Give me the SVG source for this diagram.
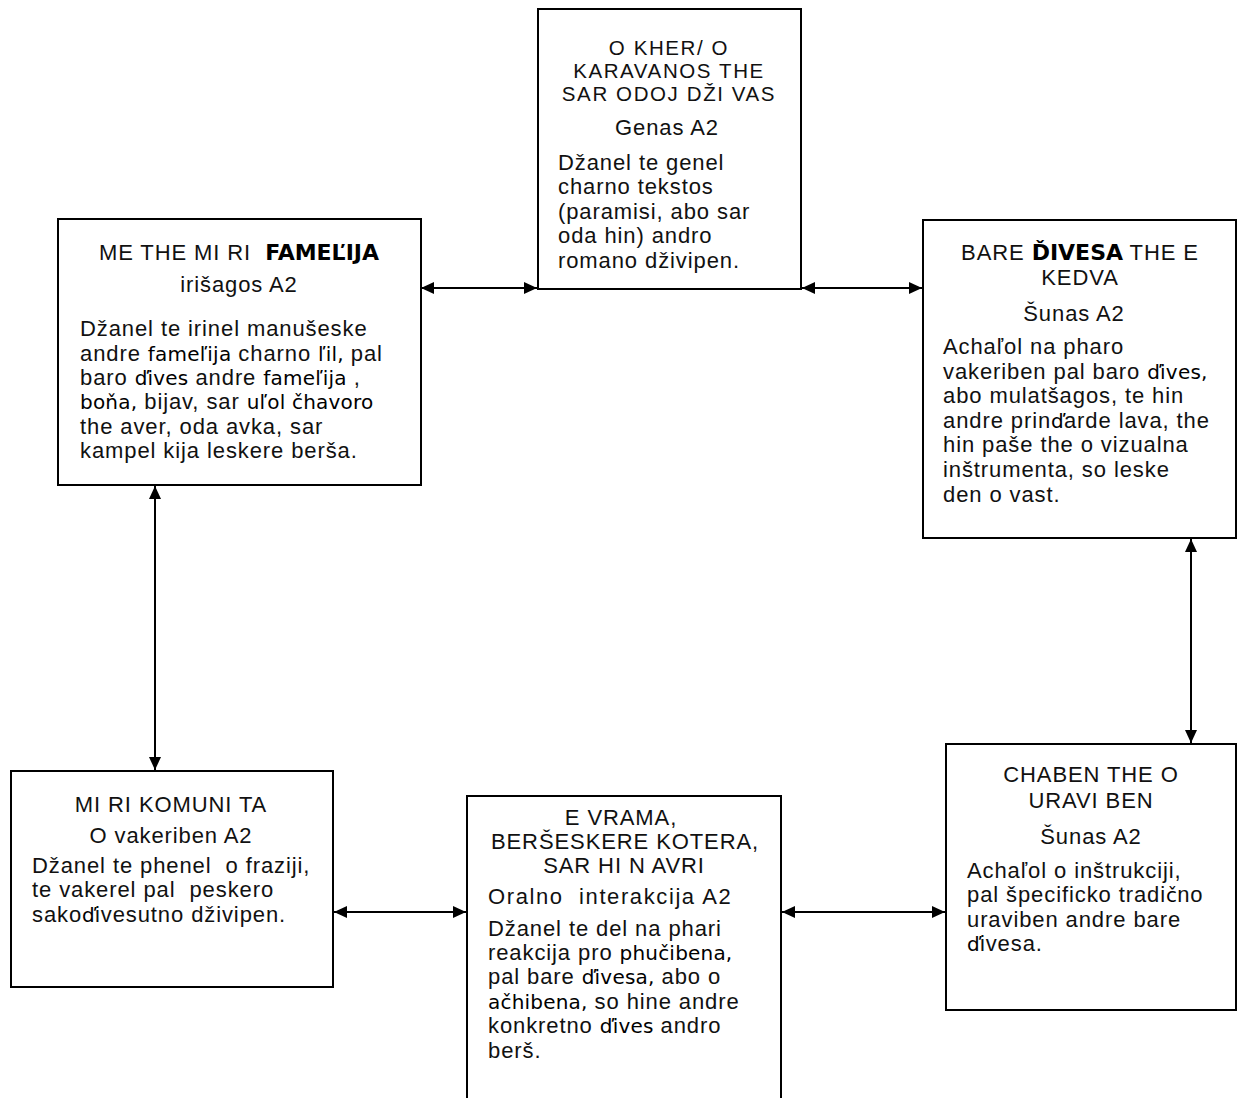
<svg xmlns="http://www.w3.org/2000/svg" width="1240" height="1098" viewBox="0 0 1240 1098">
<style>
.box{fill:#fff;stroke:#000;stroke-width:2}
text{font-family:"Liberation Sans",Arial,sans-serif;font-size:22px;letter-spacing:0.9px;fill:#111}
.c{text-anchor:middle}
.t{font-size:20.5px;letter-spacing:1.6px}
.b{font-family:"DejaVu Sans",Verdana,sans-serif;font-weight:bold;font-size:22px;letter-spacing:0;fill:#000}
.d{font-family:"DejaVu Sans",Verdana,sans-serif;font-size:20px;letter-spacing:0.2px;fill:#000}
.conn line{stroke:#000;stroke-width:2;marker-start:url(#ah);marker-end:url(#ah)}
</style>
<defs>
<marker id="ah" markerUnits="userSpaceOnUse" markerWidth="14" markerHeight="14" refX="13" refY="7" orient="auto-start-reverse"><path d="M0,1 L13,7 L0,13 z" fill="#000"/></marker>
</defs>
<rect width="1240" height="1098" fill="#fff"/>
<g id="conn" class="conn">
<line x1="421" y1="288" x2="537" y2="288"/>
<line x1="802" y1="288" x2="922" y2="288"/>
<line x1="155" y1="486" x2="155" y2="770"/>
<line x1="1191" y1="539" x2="1191" y2="743"/>
<line x1="334" y1="912" x2="466" y2="912"/>
<line x1="782" y1="912" x2="945" y2="912"/>
</g>
<g id="n-kher">
<rect class="box" x="538" y="9" width="263" height="280"/>
<text class="c t" x="669" y="55">O KHER/ O</text>
<text class="c t" x="669" y="78">KARAVANOS THE</text>
<text class="c t" x="669" y="101">SAR ODOJ DŽI VAS</text>
<text class="c" x="667" y="135">Genas A2</text>
<text x="558" y="170">Džanel te genel</text>
<text x="558" y="194">charno tekstos</text>
<text x="558" y="219">(paramisi, abo sar</text>
<text x="558" y="243">oda hin) andro</text>
<text x="558" y="268">romano dživipen.</text>
</g>
<g id="n-famelija">
<rect class="box" x="58" y="219" width="363" height="266"/>
<text class="c" x="239" y="260" xml:space="preserve">ME THE MI RI  <tspan class="b">FAMEĽIJA</tspan></text>
<text class="c" x="239" y="292">irišagos A2</text>
<text x="80" y="336">Džanel te irinel manušeske</text>
<text x="80" y="361">andre <tspan class="d">fameľija</tspan> charno <tspan class="d">ľil,</tspan> pal</text>
<text x="80" y="385">baro <tspan class="d">ďives</tspan> andre <tspan class="d">fameľija</tspan> ,</text>
<text x="80" y="409"><tspan class="d">boňa,</tspan> bijav, sar <tspan class="d">uľol čhavoro</tspan></text>
<text x="80" y="434">the aver, oda avka, sar</text>
<text x="80" y="458">kampel kija leskere berša.</text>
</g>
<g id="n-divesa">
<rect class="box" x="923" y="220" width="313" height="318"/>
<text class="c" x="1080" y="260">BARE <tspan class="b">ĎIVESA</tspan> THE E</text>
<text class="c" x="1080" y="285">KEDVA</text>
<text class="c" x="1074" y="321">Šunas A2</text>
<text x="943" y="354">Achaľol na pharo</text>
<text x="943" y="379">vakeriben pal baro <tspan class="d">ďives,</tspan></text>
<text x="943" y="403">abo mulatšagos, te hin</text>
<text x="943" y="428">andre prin<tspan class="d">ď</tspan>arde lava, the</text>
<text x="943" y="452">hin paše the o vizualna</text>
<text x="943" y="477">inštrumenta, so leske</text>
<text x="943" y="502">den o vast.</text>
</g>
<g id="n-komunita">
<rect class="box" x="11" y="771" width="322" height="216"/>
<text class="c" x="171" y="812">MI RI KOMUNI TA</text>
<text class="c" x="171" y="843">O vakeriben A2</text>
<text x="32" y="873" xml:space="preserve">Džanel te phenel  o fraziji,</text>
<text x="32" y="897" xml:space="preserve">te vakerel pal  peskero</text>
<text x="32" y="922">sako<tspan class="d">ď</tspan>ivesutno dživipen.</text>
</g>
<g id="n-vrama">
<rect class="box" x="467" y="796" width="314" height="320"/>
<text class="c" x="621" y="825">E VRAMA,</text>
<text class="c" x="625" y="849">BERŠESKERE KOTERA,</text>
<text class="c" x="624" y="873">SAR HI N AVRI</text>
<text x="488" y="904" xml:space="preserve" style="letter-spacing:1.6px">Oralno  interakcija A2</text>
<text x="488" y="936">Džanel te del na phari</text>
<text x="488" y="960">reakcija pro <tspan class="d">phučibena,</tspan></text>
<text x="488" y="984">pal bare <tspan class="d">ďivesa,</tspan> abo o</text>
<text x="488" y="1009"><tspan class="d">ačhibena,</tspan> so hine andre</text>
<text x="488" y="1033">konkretno <tspan class="d">ďives</tspan> andro</text>
<text x="488" y="1058">berš.</text>
</g>
<g id="n-chaben">
<rect class="box" x="946" y="744" width="290" height="266"/>
<text class="c" x="1091" y="782">CHABEN THE O</text>
<text class="c" x="1091" y="808">URAVI BEN</text>
<text class="c" x="1091" y="844">Šunas A2</text>
<text x="967" y="878">Achaľol o inštrukciji,</text>
<text x="967" y="902">pal špecificko tradi<tspan class="d">č</tspan>no</text>
<text x="967" y="927">uraviben andre bare</text>
<text x="967" y="951"><tspan class="d">ď</tspan>ivesa.</text>
</g>
</svg>
